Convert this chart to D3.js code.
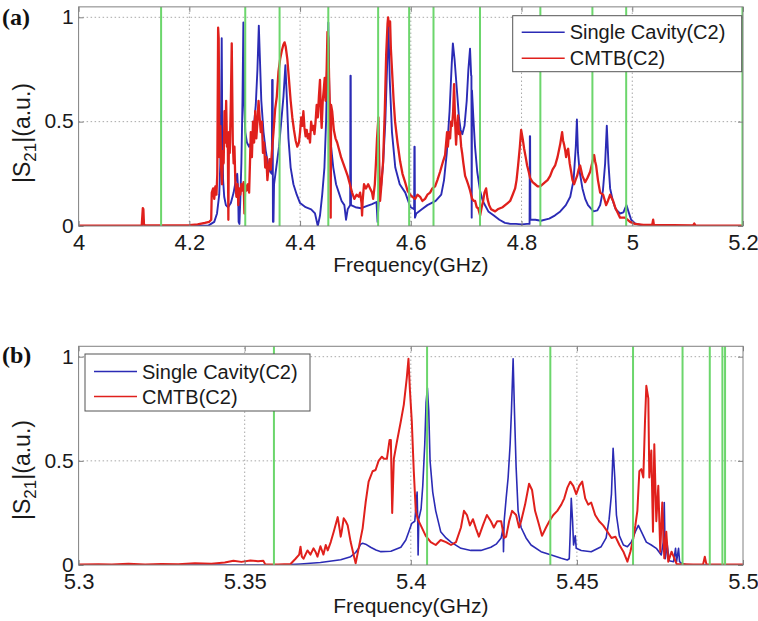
<!DOCTYPE html>
<html><head><meta charset="utf-8">
<script src="https://cdn.jsdelivr.net/npm/d3@7"></script>
<style>body{margin:0;background:#fff}svg{display:block}</style>
</head><body><svg id="c" width="758" height="621"></svg>
<script>
const xTicksA=[4,4.2,4.4,4.6,4.8,5,5.2];
const xTickLabelsA=["4","4.2","4.4","4.6","4.8","5","5.2"];
const xTicksB=[5.3,5.35,5.4,5.45,5.5];
const xTickLabelsB=["5.3","5.35","5.4","5.45","5.5"];
const yTicks=[0,0.5,1];
const yTickLabels=["0","0.5","1"];
const seriesNames=["Single Cavity(C2)","CMTB(C2)"];
const panelLabels=["(a)","(b)"];
const xTitle="Frequency(GHz)";

const modesA=[4.149,4.301,4.363,4.451,4.541,4.597,4.641,4.725,4.834,4.928,4.989,5.199];
const modesB=[5.3588,5.4049,5.4420,5.4669,5.4818,5.4900,5.4938,5.4946];

const singleA=[[4.0,0],[4.114,0],[4.117,0.03],[4.119,0],[4.20,0],[4.235,0.003],[4.245,0.02],[4.25,0.06],[4.254,0.15],[4.256,0.3],[4.2575,0.6],[4.2585,0.90],[4.2595,0.45],[4.261,0.22],[4.263,0.14],[4.266,0.1],[4.27,0.09],[4.275,0.11],[4.28,0.16],[4.284,0.22],[4.2865,0.25],[4.288,0.18],[4.289,0.02],[4.2905,0.01],[4.292,0.12],[4.294,0.3],[4.296,0.6],[4.2976,0.975],[4.299,0.6],[4.301,0.45],[4.304,0.4],[4.308,0.38],[4.312,0.4],[4.316,0.46],[4.320,0.58],[4.323,0.75],[4.3255,0.96],[4.3275,0.8],[4.33,0.6],[4.334,0.45],[4.338,0.36],[4.342,0.3],[4.346,0.26],[4.349,0.25],[4.3495,0.70],[4.3505,0.70],[4.351,0.02],[4.352,0.02],[4.353,0.2],[4.357,0.28],[4.362,0.38],[4.366,0.5],[4.37,0.62],[4.3735,0.77],[4.376,0.62],[4.379,0.42],[4.383,0.28],[4.388,0.2],[4.394,0.15],[4.40,0.11],[4.41,0.09],[4.42,0.08],[4.427,0.06],[4.432,0.0],[4.436,0.05],[4.44,0.15],[4.444,0.28],[4.447,0.5],[4.449,0.75],[4.451,0.975],[4.453,0.6],[4.456,0.38],[4.46,0.28],[4.465,0.2],[4.47,0.16],[4.475,0.12],[4.48,0.1],[4.483,0.03],[4.486,0.08],[4.4905,0.1],[4.491,0.72],[4.4915,0.72],[4.492,0.1],[4.5,0.09],[4.51,0.085],[4.52,0.095],[4.53,0.105],[4.538,0.115],[4.540,0.02],[4.542,0.12],[4.546,0.18],[4.55,0.3],[4.554,0.5],[4.557,0.75],[4.5595,0.98],[4.562,0.7],[4.566,0.45],[4.572,0.28],[4.58,0.2],[4.59,0.16],[4.598,0.1],[4.6,0.09],[4.606,0.08],[4.6065,0.38],[4.607,0.38],[4.6075,0.04],[4.61,0.06],[4.62,0.08],[4.63,0.1],[4.645,0.12],[4.655,0.15],[4.66,0.22],[4.665,0.35],[4.67,0.55],[4.674,0.78],[4.676,0.875],[4.679,0.8],[4.683,0.66],[4.687,0.52],[4.69,0.46],[4.693,0.44],[4.697,0.48],[4.701,0.6],[4.704,0.75],[4.707,0.85],[4.709,0.72],[4.7095,0.72],[4.710,0.04],[4.7105,0.65],[4.713,0.52],[4.716,0.38],[4.72,0.26],[4.725,0.17],[4.73,0.12],[4.74,0.07],[4.75,0.05],[4.76,0.03],[4.77,0.015],[4.78,0.01],[4.79,0.01],[4.80,0.008],[4.81,0.01],[4.8145,0.01],[4.815,0.43],[4.8155,0.43],[4.816,0.03],[4.825,0.03],[4.835,0.025],[4.85,0.035],[4.86,0.05],[4.87,0.07],[4.88,0.1],[4.888,0.14],[4.894,0.22],[4.898,0.38],[4.900,0.51],[4.902,0.35],[4.905,0.26],[4.91,0.18],[4.915,0.13],[4.92,0.1],[4.93,0.07],[4.937,0.075],[4.942,0.1],[4.947,0.17],[4.951,0.3],[4.954,0.48],[4.957,0.3],[4.96,0.18],[4.965,0.12],[4.97,0.08],[4.978,0.06],[4.984,0.065],[4.9895,0.1],[4.993,0.07],[4.998,0.03],[5.005,0.012],[5.015,0.005],[5.03,0],[5.2,0]];

const cmtbA=[[4.0,0.002],[4.114,0.002],[4.116,0.086],[4.117,0.08],[4.118,0.01],[4.119,0.003],[4.20,0.004],[4.215,0.008],[4.228,0.015],[4.236,0.02],[4.2395,0.03],[4.2405,0.16],[4.243,0.18],[4.245,0.13],[4.247,0.19],[4.249,0.15],[4.2505,0.25],[4.252,0.95],[4.253,0.9],[4.2545,0.33],[4.256,0.48],[4.2575,0.28],[4.259,0.2],[4.2605,0.36],[4.262,0.3],[4.2635,0.55],[4.265,0.4],[4.2665,0.6],[4.268,0.38],[4.2695,0.42],[4.2705,0.03],[4.2715,0.45],[4.273,0.35],[4.275,0.6],[4.2766,0.875],[4.2785,0.4],[4.28,0.3],[4.2815,0.38],[4.283,0.22],[4.285,0.14],[4.287,0.2],[4.2885,0.1],[4.29,0.18],[4.292,0.15],[4.294,0.2],[4.296,0.17],[4.298,0.21],[4.2995,0.06],[4.301,0.2],[4.3035,0.17],[4.306,0.2],[4.308,0.16],[4.3095,0.3],[4.311,0.45],[4.313,0.33],[4.315,0.5],[4.317,0.4],[4.319,0.55],[4.321,0.42],[4.323,0.5],[4.325,0.6],[4.327,0.52],[4.329,0.45],[4.331,0.5],[4.333,0.35],[4.335,0.4],[4.337,0.28],[4.339,0.33],[4.341,0.22],[4.343,0.28],[4.345,0.32],[4.347,0.27],[4.349,0.35],[4.352,0.45],[4.355,0.56],[4.358,0.62],[4.361,0.74],[4.364,0.8],[4.367,0.84],[4.370,0.87],[4.372,0.88],[4.374,0.86],[4.377,0.8],[4.38,0.7],[4.383,0.6],[4.386,0.52],[4.389,0.46],[4.392,0.41],[4.395,0.38],[4.398,0.4],[4.400,0.45],[4.402,0.52],[4.404,0.48],[4.406,0.55],[4.408,0.47],[4.41,0.43],[4.412,0.46],[4.414,0.42],[4.416,0.44],[4.418,0.4],[4.420,0.5],[4.422,0.46],[4.424,0.48],[4.426,0.44],[4.428,0.5],[4.43,0.58],[4.432,0.52],[4.434,0.62],[4.436,0.70],[4.4375,0.55],[4.439,0.47],[4.441,0.6],[4.443,0.66],[4.4445,0.71],[4.446,0.6],[4.448,0.75],[4.4495,0.93],[4.451,0.9],[4.4525,0.7],[4.4545,0.5],[4.4553,0.04],[4.456,0.58],[4.458,0.55],[4.461,0.46],[4.464,0.42],[4.467,0.4],[4.47,0.37],[4.474,0.33],[4.478,0.3],[4.482,0.27],[4.486,0.24],[4.49,0.2],[4.494,0.16],[4.498,0.13],[4.502,0.15],[4.506,0.14],[4.5085,0.16],[4.511,0.11],[4.512,0.05],[4.513,0.12],[4.5155,0.2],[4.519,0.18],[4.523,0.2],[4.5265,0.18],[4.53,0.16],[4.532,0.13],[4.535,0.2],[4.537,0.3],[4.539,0.42],[4.5415,0.52],[4.543,0.3],[4.5445,0.12],[4.547,0.2],[4.55,0.31],[4.553,0.55],[4.5555,0.82],[4.558,0.97],[4.559,1.0],[4.5605,0.96],[4.5626,0.98],[4.564,0.85],[4.5662,0.74],[4.569,0.6],[4.5716,0.5],[4.576,0.4],[4.5807,0.31],[4.585,0.25],[4.5897,0.21],[4.594,0.17],[4.5987,0.15],[4.603,0.14],[4.6078,0.13],[4.612,0.15],[4.6168,0.14],[4.621,0.12],[4.6258,0.13],[4.63,0.15],[4.6348,0.16],[4.639,0.18],[4.6439,0.19],[4.648,0.22],[4.6529,0.26],[4.6583,0.31],[4.6619,0.34],[4.6655,0.45],[4.667,0.38],[4.6691,0.45],[4.671,0.42],[4.6728,0.5],[4.6746,0.48],[4.6765,0.55],[4.6782,0.68],[4.68,0.5],[4.6818,0.39],[4.6836,0.48],[4.6854,0.53],[4.687,0.44],[4.689,0.45],[4.691,0.38],[4.6927,0.35],[4.695,0.3],[4.6981,0.24],[4.701,0.22],[4.7035,0.2],[4.707,0.17],[4.7107,0.13],[4.714,0.12],[4.7162,0.12],[4.719,0.09],[4.7216,0.085],[4.7252,0.05],[4.728,0.09],[4.7306,0.12],[4.733,0.16],[4.736,0.18],[4.7385,0.13],[4.7415,0.1],[4.745,0.08],[4.7523,0.07],[4.757,0.08],[4.7613,0.085],[4.766,0.09],[4.7704,0.1],[4.775,0.11],[4.7794,0.12],[4.784,0.15],[4.7884,0.18],[4.791,0.22],[4.7938,0.29],[4.797,0.38],[4.7993,0.46],[4.802,0.42],[4.8047,0.37],[4.8075,0.33],[4.8101,0.29],[4.813,0.26],[4.8155,0.23],[4.82,0.21],[4.8246,0.2],[4.829,0.19],[4.8336,0.19],[4.838,0.2],[4.8426,0.21],[4.847,0.22],[4.8517,0.24],[4.856,0.27],[4.8607,0.29],[4.865,0.33],[4.8697,0.39],[4.8715,0.42],[4.8733,0.45],[4.875,0.41],[4.8769,0.39],[4.879,0.36],[4.8805,0.33],[4.8824,0.36],[4.8842,0.37],[4.887,0.3],[4.8896,0.26],[4.892,0.22],[4.895,0.2],[4.8975,0.22],[4.9004,0.24],[4.903,0.27],[4.9058,0.29],[4.91,0.24],[4.9149,0.21],[4.919,0.23],[4.9239,0.26],[4.9275,0.3],[4.9311,0.34],[4.9329,0.31],[4.9347,0.29],[4.938,0.22],[4.942,0.16],[4.9474,0.15],[4.9528,0.1],[4.956,0.12],[4.96,0.15],[4.9654,0.12],[4.969,0.09],[4.9726,0.07],[4.978,0.04],[4.987,0.04],[4.996,0.02],[5.005,0.01],[5.02,0.005],[5.036,0.005],[5.0377,0.03],[5.039,0.005],[5.11,0.003],[5.112,0.012],[5.114,0.003],[5.2,0.002]];

const singleB=[[5.3,0],[5.36,0],[5.3638,0.002],[5.3668,0.005],[5.3728,0.012],[5.3789,0.025],[5.3819,0.04],[5.3834,0.06],[5.3843,0.08],[5.3849,0.1],[5.3855,0.104],[5.3864,0.1],[5.3879,0.085],[5.3895,0.072],[5.391,0.064],[5.394,0.066],[5.397,0.085],[5.3985,0.12],[5.3994,0.16],[5.4003,0.2],[5.4012,0.21],[5.4019,0.35],[5.4021,0.2],[5.4022,0.048],[5.4024,0.22],[5.4031,0.27],[5.4036,0.38],[5.4042,0.58],[5.4046,0.78],[5.405,0.85],[5.4054,0.74],[5.4058,0.5],[5.4066,0.35],[5.4075,0.26],[5.409,0.16],[5.4106,0.13],[5.4121,0.11],[5.4151,0.08],[5.4181,0.07],[5.4211,0.07],[5.4241,0.085],[5.4257,0.1],[5.4272,0.13],[5.4278,0.18],[5.4279,0.064],[5.4281,0.21],[5.4287,0.32],[5.4293,0.42],[5.4299,0.58],[5.4303,0.74],[5.4308,0.99],[5.4312,0.74],[5.4317,0.47],[5.4323,0.26],[5.4332,0.18],[5.4347,0.13],[5.4362,0.096],[5.4392,0.064],[5.4423,0.048],[5.4453,0.032],[5.4471,0.024],[5.4477,0.03],[5.448,0.16],[5.4483,0.32],[5.4487,0.21],[5.449,0.096],[5.4495,0.14],[5.4498,0.08],[5.4513,0.07],[5.4543,0.064],[5.4573,0.088],[5.4588,0.13],[5.4597,0.22],[5.4604,0.34],[5.4609,0.56],[5.4614,0.42],[5.4619,0.24],[5.4628,0.14],[5.464,0.096],[5.4652,0.088],[5.4664,0.11],[5.4676,0.16],[5.4685,0.19],[5.4694,0.16],[5.4709,0.11],[5.4724,0.096],[5.4739,0.08],[5.4754,0.048],[5.476,0.11],[5.4763,0.3],[5.4766,0.03],[5.4772,0.096],[5.4778,0.02],[5.4791,0.016],[5.4797,0.08],[5.48,0.016],[5.4806,0.08],[5.4809,0.016],[5.4815,0.008],[5.483,0],[5.5,0]];

const cmtbB=[[5.3,0.003],[5.306,0.004],[5.31,0.002],[5.315,0.006],[5.32,0.003],[5.325,0.005],[5.33,0.004],[5.335,0.008],[5.34,0.006],[5.344,0.012],[5.3466,0.02],[5.349,0.015],[5.3517,0.022],[5.354,0.018],[5.3556,0.02],[5.3562,0.003],[5.36,0.002],[5.3638,0.005],[5.3653,0.03],[5.3664,0.05],[5.3668,0.088],[5.3672,0.04],[5.3677,0.03],[5.3689,0.07],[5.3698,0.05],[5.3707,0.08],[5.3713,0.064],[5.3719,0.04],[5.3728,0.09],[5.3737,0.05],[5.3744,0.096],[5.375,0.07],[5.3759,0.11],[5.3768,0.16],[5.378,0.23],[5.3786,0.17],[5.3789,0.136],[5.3792,0.16],[5.3798,0.224],[5.3804,0.21],[5.381,0.19],[5.3819,0.11],[5.3828,0.048],[5.3834,0.008],[5.3843,0.08],[5.3855,0.176],[5.3864,0.3],[5.3873,0.4],[5.3885,0.45],[5.3894,0.456],[5.3903,0.5],[5.3913,0.52],[5.3919,0.51],[5.3928,0.51],[5.3936,0.6],[5.394,0.6],[5.3944,0.25],[5.3949,0.51],[5.3958,0.59],[5.397,0.69],[5.3979,0.77],[5.3988,0.9],[5.3993,0.99],[5.3997,0.85],[5.4003,0.69],[5.4009,0.45],[5.4015,0.26],[5.4021,0.22],[5.403,0.19],[5.4045,0.14],[5.406,0.11],[5.4075,0.096],[5.409,0.12],[5.4106,0.11],[5.4121,0.096],[5.4136,0.11],[5.4151,0.18],[5.416,0.26],[5.4169,0.24],[5.4178,0.19],[5.4187,0.22],[5.4196,0.176],[5.4205,0.136],[5.4217,0.19],[5.4229,0.24],[5.4241,0.21],[5.425,0.18],[5.426,0.21],[5.4272,0.21],[5.4281,0.13],[5.4287,0.136],[5.4296,0.21],[5.4305,0.26],[5.4317,0.24],[5.4326,0.18],[5.4332,0.21],[5.4344,0.29],[5.4356,0.39],[5.4365,0.36],[5.4374,0.26],[5.4383,0.21],[5.4395,0.14],[5.4407,0.18],[5.4417,0.21],[5.4429,0.24],[5.4441,0.26],[5.4453,0.29],[5.4462,0.32],[5.4471,0.37],[5.448,0.40],[5.4489,0.38],[5.4498,0.34],[5.4507,0.38],[5.4516,0.40],[5.4525,0.32],[5.4534,0.29],[5.4543,0.30],[5.4555,0.24],[5.4567,0.21],[5.4579,0.19],[5.4592,0.16],[5.4604,0.13],[5.4616,0.136],[5.4628,0.096],[5.464,0.064],[5.4652,0.016],[5.4661,0.064],[5.467,0.13],[5.4676,0.19],[5.4682,0.26],[5.4688,0.45],[5.4694,0.46],[5.47,0.42],[5.4705,0.69],[5.4709,0.86],[5.4715,0.80],[5.4718,0.42],[5.4724,0.55],[5.4729,0.16],[5.4733,0.58],[5.4739,0.21],[5.4745,0.38],[5.4751,0.064],[5.4757,0.30],[5.4763,0.032],[5.4769,0.16],[5.4775,0.016],[5.4785,0.064],[5.48,0.005],[5.485,0.003],[5.488,0.004],[5.4885,0.04],[5.489,0.003],[5.5,0.002]];

const C_BLUE="#2b2bb5", C_RED="#e0201c", C_GREEN="#6cd66c", C_AX="#808080", C_TXT="#1a1a1a";
const svg=d3.select("#c");
const FONT="'Liberation Sans', Arial, sans-serif";

function panel(o){
  const g=svg.append("g");
  const x=d3.scaleLinear().domain(o.xdom).range([78.6,743]);
  const y=d3.scaleLinear().domain([0,1.05]).range([o.y0,o.y0-1.05*o.unit]);
  const [x0,x1]=x.range(), [yb,yt]=y.range();
  const grid=g.append("g").attr("stroke","#a8a8a8").attr("stroke-width",1).attr("stroke-dasharray","1.5,2.5");
  o.xticks.slice(1,-1).forEach(t=>grid.append("line").attr("x1",x(t)).attr("x2",x(t)).attr("y1",yb).attr("y2",yt));
  yTicks.slice(1).forEach(t=>grid.append("line").attr("x1",x0).attr("x2",x1).attr("y1",y(t)).attr("y2",y(t)));
  const clip="clip"+o.id;
  svg.append("clipPath").attr("id",clip).append("rect").attr("x",x0).attr("y",yt).attr("width",x1-x0).attr("height",yb-yt);
  const line=d3.line().x(d=>x(d[0])).y(d=>y(d[1]));
  const cg=g.append("g").attr("clip-path",`url(#${clip})`);
  cg.append("path").attr("d",line(o.single)).attr("fill","none").attr("stroke",C_BLUE).attr("stroke-width",o.lw).attr("stroke-linejoin","round");
  cg.append("path").attr("d",line(o.cmtb)).attr("fill","none").attr("stroke",C_RED).attr("stroke-width",o.lw+0.4).attr("stroke-linejoin","round");
  o.modes.forEach(m=>cg.append("line").attr("x1",x(m)).attr("x2",x(m)).attr("y1",yb).attr("y2",yt).attr("stroke",C_GREEN).attr("stroke-width",2));
  const axB=d3.axisBottom(x).tickValues(o.xticks).tickFormat((d,i)=>o.xlabels[i]).tickSizeInner(-5).tickSizeOuter(0).tickPadding(8);
  const axT=d3.axisTop(x).tickValues(o.xticks).tickFormat("").tickSizeInner(-5).tickSizeOuter(0);
  const axL=d3.axisLeft(y).tickValues(yTicks).tickFormat((d,i)=>yTickLabels[i]).tickSizeInner(-5).tickSizeOuter(0).tickPadding(5);
  const axR=d3.axisRight(y).tickValues(yTicks).tickFormat("").tickSizeInner(-5).tickSizeOuter(0);
  const style=s=>{s.selectAll("path").remove();s.selectAll("line").attr("stroke",C_AX);s.selectAll("text").attr("fill",C_TXT).style("font-family",FONT).style("font-size","22px");};
  g.append("g").attr("transform",`translate(0,${yb})`).call(axB).call(style);
  g.append("g").attr("transform",`translate(0,${yt})`).call(axT).call(style);
  const gl=g.append("g").attr("transform",`translate(${x0},0)`).call(axL).call(style);
  gl.selectAll("text").attr("dy","0.3em").style("font-size","21px");
  g.append("g").attr("transform",`translate(${x1},0)`).call(axR).call(style);
  g.append("rect").attr("x",x0).attr("y",yt).attr("width",x1-x0).attr("height",yb-yt).attr("fill","none").attr("stroke",C_AX).attr("stroke-width",1);
  g.append("text").attr("x",(x0+x1)/2).attr("y",o.titleY).attr("text-anchor","middle").attr("fill",C_TXT).style("font-family",FONT).style("font-size","21px").text(xTitle);
  const yl=g.append("text").attr("transform",`translate(30,${o.ylabY}) rotate(-90)`).attr("text-anchor","middle").attr("fill",C_TXT).style("font-family",FONT).style("font-size","23px");
  yl.append("tspan").text("|S");
  yl.append("tspan").attr("dy",6).style("font-size","17px").text("21");
  yl.append("tspan").attr("dy",-6).text("|(a.u.)");
  g.append("text").attr("x",2).attr("y",o.panelY).attr("fill","#111").style("font-family","'Liberation Serif','Times New Roman',serif").style("font-weight","bold").style("font-size","24px").text(o.plabel);
  const L=o.leg;
  const lg=g.append("g");
  lg.append("rect").attr("x",L.x).attr("y",L.y).attr("width",L.w).attr("height",L.h).attr("fill","#fff").attr("stroke","#555").attr("stroke-width",1);
  [C_BLUE,C_RED].forEach((c,i)=>{
    const cy=L.y+L.r0+i*L.dr;
    lg.append("line").attr("x1",L.x+9).attr("x2",L.x+52).attr("y1",cy).attr("y2",cy).attr("stroke",c).attr("stroke-width",1.5);
    lg.append("text").attr("x",L.x+57).attr("y",cy+7).attr("fill",C_TXT).style("font-family",FONT).style("font-size","20px").text(seriesNames[i]);
  });
}

panel({id:"a",xdom:[4,5.2],y0:226,unit:208.7,xticks:xTicksA,xlabels:xTickLabelsA,single:singleA,cmtb:cmtbA,modes:modesA,lw:1.9,
  titleY:272,ylabY:133,panelY:25,plabel:panelLabels[0],leg:{x:512.7,y:15.7,w:229,h:56,r0:16.5,dr:26}});
panel({id:"b",xdom:[5.3,5.5],y0:565,unit:208.3,xticks:xTicksB,xlabels:xTickLabelsB,single:singleB,cmtb:cmtbB,modes:modesB,lw:1.6,
  titleY:613,ylabY:470,panelY:363,plabel:panelLabels[1],leg:{x:85,y:354,w:225,h:57,r0:17.5,dr:25}});
</script></body></html>
